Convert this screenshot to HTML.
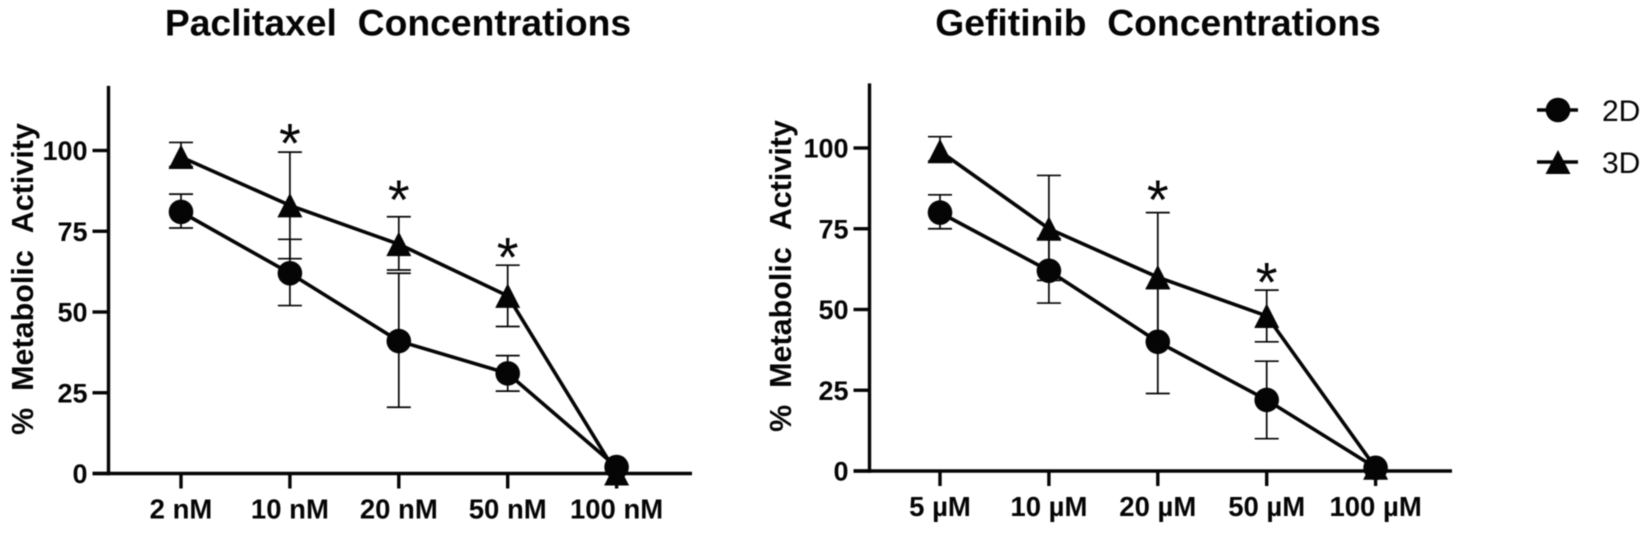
<!DOCTYPE html>
<html lang="en">
<head>
<meta charset="utf-8">
<title>Metabolic activity charts</title>
<style>
html,body{margin:0;padding:0;background:#fff;}
body{width:1649px;height:533px;overflow:hidden;}
svg{display:block;filter:blur(0.4px);}
text{font-family:"Liberation Sans",Arial,sans-serif;fill:#050505;}
</style>
</head>
<body>
<svg id="figure" width="1649" height="533" viewBox="0 0 1649 533" xmlns="http://www.w3.org/2000/svg">
  <g id="left-chart"></g>
  <g id="right-chart"></g>
  <g>
    <g>
      <line x1="1537" y1="110" x2="1578" y2="110" stroke="#050505" stroke-width="3.5"/>
      <circle cx="1558" cy="110" r="12.3" fill="#050505"/>
      <text x="1602" y="121" font-size="30">2D</text>
    </g>
    <g>
      <line x1="1537" y1="162" x2="1578" y2="162" stroke="#050505" stroke-width="3.5"/>
      <polygon points="1558,150 1570.500,174 1545.500,174" fill="#050505"/>
      <text x="1602" y="173" font-size="30">3D</text>
    </g>
  </g>
</svg>
<script>
const yTickValues = [0, 25, 50, 75, 100];

const leftCategories = ["2 nM", "10 nM", "20 nM", "50 nM", "100 nM"];
const left2D = [81, 62, 41, 31, 2];
const left2DUpper = [86.5, 72.5, 62, 36.5, 2];
const left2DLower = [76, 52, 20.5, 25.5, 2];
const left3D = [98, 83, 71, 55, 0];
const left3DUpper = [102.5, 99.5, 79.5, 64.5, 0];
const left3DLower = [95, 66.5, 63, 45.5, 0];
const leftStarLevels = [null, 104.3, 86.8, 69, null];

const rightCategories = ["5 µM", "10 µM", "20 µM", "50 µM", "100 µM"];
const right2D = [80, 62, 40, 22, 1];
const right2DUpper = [85.5, 72, 56.5, 34, 1];
const right2DLower = [75, 52, 24, 10, 1];
const right3D = [99, 75, 60, 48, 1];
const right3DUpper = [103.5, 91.5, 80, 56, 1];
const right3DLower = [96, 59, 40, 40, 1];
const rightStarLevels = [null, null, 86, 60.5, null];

const SVG_NS = "http://www.w3.org/2000/svg";
const INK = "#050505";

function make(parent, tag, attrs, text) {
  const el = document.createElementNS(SVG_NS, tag);
  for (const k in attrs) el.setAttribute(k, attrs[k]);
  if (text !== undefined) el.textContent = text;
  parent.appendChild(el);
  return el;
}

function drawChart(root, geo, title, categories, s2d, s2dUp, s2dLo, s3d, s3dUp, s3dLo, starLevels) {
  const xScale = i => geo.x0 + i * geo.xStep;
  const yScale = v => geo.yBase - v * geo.yUnit;

  const titleEl = make(root, "text", {x: geo.titleX, y: 35.5, "font-size": 37.3, "font-weight": "bold", "text-anchor": "middle"}, title);
  
  

  const yTitle = make(root, "text", {transform: "translate(" + geo.yTitleX + " " + geo.yTitleY + ") rotate(-90)", "font-size": 30.5, "font-weight": "bold", "text-anchor": "middle"}, "%\u00A0\u00A0Metabolic\u00A0\u00A0Activity");
  
  

  const yAxis = make(root, "line", {x1: geo.axisX, x2: geo.axisX, y1: yScale(120), y2: geo.yBase + 1.7, stroke: INK, "stroke-width": 3.4});
  
  

  const xAxis = make(root, "line", {x1: geo.axisX - 16, x2: geo.axisEnd, y1: geo.yBase, y2: geo.yBase, stroke: INK, "stroke-width": 3.4});
  
  

  yTickValues.forEach(v => {
    const tick = make(root, "line", {x1: geo.axisX - 16, x2: geo.axisX, y1: yScale(v), y2: yScale(v), stroke: INK, "stroke-width": 3.4});
    
    
    const label = make(root, "text", {x: geo.axisX - 21, y: yScale(v) + 9.5, "font-size": 27, "font-weight": "bold", "text-anchor": "end"}, String(v));
    
    
  });

  categories.forEach((c, i) => {
    const tick = make(root, "line", {x1: xScale(i), x2: xScale(i), y1: geo.yBase, y2: geo.yBase + 15, stroke: INK, "stroke-width": 3.4});
    
    
    const label = make(root, "text", {x: xScale(i), y: geo.yBase + 45, "font-size": 27.5, "font-weight": "bold", "text-anchor": "middle"}, c);
    
    
  });

  function errorBars(up, lo, name) {
    up.forEach((u, i) => {
      if (u === lo[i]) return;
      const x = xScale(i);
      const bar = make(root, "path", {
        d: "M" + (x - 12) + " " + yScale(u) + "H" + (x + 12) + "M" + x + " " + yScale(u) + "V" + yScale(lo[i]) + "M" + (x - 12) + " " + yScale(lo[i]) + "H" + (x + 12),
        fill: "none", stroke: INK, "stroke-width": 1.7
      });
      
      
    });
  }
  errorBars(s2dUp, s2dLo, 'error-bar-2d');
  errorBars(s3dUp, s3dLo, 'error-bar-3d');

  function seriesLine(vals, name) {
    const line = make(root, "polyline", {
      points: vals.map((v, i) => xScale(i) + "," + yScale(v)).join(" "),
      fill: "none", stroke: INK, "stroke-width": 3.6, "stroke-linejoin": "round"
    });
    
    
  }
  seriesLine(s2d, 'line-2d');
  seriesLine(s3d, 'line-3d');

  s3d.forEach((v, i) => {
    const x = xScale(i), y = yScale(v);
    const mark = make(root, "polygon", {points: x + "," + (y - 12.5) + " " + (x + 12.5) + "," + (y + 12) + " " + (x - 12.5) + "," + (y + 12), fill: INK});
    
    
  });
  s2d.forEach((v, i) => {
    const mark = make(root, "circle", {cx: xScale(i), cy: yScale(v), r: 12.3, fill: INK});
    
    
  });

  starLevels.forEach((level, i) => {
    if (level === null) return;
    const star = make(root, "text", {x: xScale(i), y: yScale(level) + 26, "font-size": 56, "text-anchor": "middle"}, "*");
    
    
  });
}

drawChart(document.getElementById("left-chart"),
  {x0: 181, xStep: 108.9, yBase: 473.5, yUnit: 3.23, axisX: 108.5, axisEnd: 692, titleX: 398, yTitleX: 33, yTitleY: 279},
  "Paclitaxel\u00A0\u00A0Concentrations", leftCategories, left2D, left2DUpper, left2DLower, left3D, left3DUpper, left3DLower, leftStarLevels);

drawChart(document.getElementById("right-chart"),
  {x0: 940, xStep: 108.9, yBase: 471, yUnit: 3.23, axisX: 869.5, axisEnd: 1452, titleX: 1158, yTitleX: 791, yTitleY: 276},
  "Gefitinib\u00A0\u00A0Concentrations", rightCategories, right2D, right2DUpper, right2DLower, right3D, right3DUpper, right3DLower, rightStarLevels);
</script>
</body>
</html>
